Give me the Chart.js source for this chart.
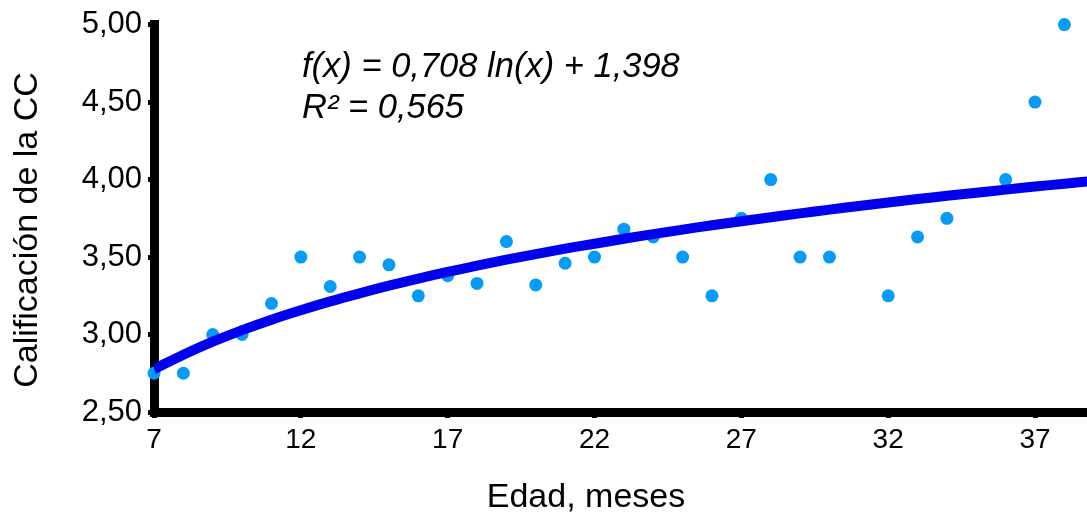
<!DOCTYPE html>
<html>
<head>
<meta charset="utf-8">
<script src="https://cdn.jsdelivr.net/npm/chart.js@4"></script>
<style>
  html, body { margin: 0; padding: 0; background: #fff; }
  #wrap { width: 1087px; height: 514px; }
</style>
</head>
<body>
<div id="wrap"><canvas id="ccChart" width="1087" height="514"></canvas></div>
<script>
// ===== datos =====
const ageMonths = [7, 8, 9, 10, 11, 12, 13, 14, 15, 16, 17, 18, 19, 20, 21, 22, 23, 24, 25, 26, 27, 28, 29, 30, 32, 33, 34, 36, 37, 38];
const ccScores  = [2.75, 2.75, 3.00, 3.00, 3.20, 3.50, 3.31, 3.50, 3.45, 3.25, 3.38, 3.33, 3.60, 3.32, 3.46, 3.50, 3.68, 3.63, 3.50, 3.25, 3.75, 4.00, 3.50, 3.50, 3.25, 3.63, 3.75, 4.00, 4.50, 5.00];

// curva de tendencia logarítmica
const trendX = [7, 8, 9, 10, 11, 12, 13, 14, 15, 16, 17, 18, 19, 20, 21, 22, 23, 24, 25, 26, 27, 28, 29, 30, 31, 32, 33, 34, 35, 36, 37, 38, 39];
const trendY = [2.776, 2.870, 2.954, 3.028, 3.096, 3.157, 3.214, 3.266, 3.315, 3.361, 3.404, 3.444, 3.483, 3.519, 3.554, 3.586, 3.618, 3.648, 3.677, 3.705, 3.731, 3.757, 3.782, 3.806, 3.829, 3.852, 3.874, 3.895, 3.915, 3.935, 3.955, 3.973, 3.992];

const xTicks = [7, 12, 17, 22, 27, 32, 37];
const yTicks = [2.5, 3.0, 3.5, 4.0, 4.5, 5.0];

const equationLines = ["f(x) = 0,708 ln(x) + 1,398", "R² = 0,565"];
const xTitle = "Edad, meses";
const yTitle = "Calificación de la CC";

const font = "'Liberation Sans', Arial, sans-serif";

// ===== textos extra (ecuación y títulos de ejes) =====
const textPlugin = {
  id: "textPlugin",
  afterDraw(chart) {
    const ctx = chart.ctx;
    ctx.save();
    ctx.fillStyle = "#000";
    ctx.textBaseline = "alphabetic";
    ctx.textAlign = "left";
    ctx.font = "italic 34.5px " + font;
    ctx.fillText(equationLines[0], 302, 77);
    ctx.fillText(equationLines[1], 302, 118);

    ctx.textAlign = "center";
    ctx.font = "34px " + font;
    ctx.fillText(xTitle, 586, 507);

    ctx.translate(37, 230);
    ctx.rotate(-Math.PI / 2);
    ctx.fillText(yTitle, 0, 0);
    ctx.restore();
  }
};

new Chart(document.getElementById("ccChart"), {
  type: "scatter",
  data: {
    datasets: [
      {
        label: "tendencia",
        data: trendX.map((x, i) => ({ x, y: trendY[i] })),
        showLine: true,
        borderColor: "#0000ee",
        borderWidth: 10,
        pointRadius: 0,
        tension: 0.4,
        order: 0
      },
      {
        label: "CC",
        data: ageMonths.map((x, i) => ({ x, y: ccScores[i] })),
        backgroundColor: "#069bf6",
        borderWidth: 0,
        pointRadius: 6.5,
        clip: false,
        order: 1
      }
    ]
  },
  options: {
    responsive: false,
    animation: false,
    layout: { autoPadding: false, padding: { top: 24, right: 0, left: 0, bottom: 0 } },
    plugins: {
      legend: { display: false },
      tooltip: { enabled: false }
    },
    scales: {
      x: {
        type: "linear",
        min: 7,
        max: 38.77,
        afterBuildTicks: (s) => { s.ticks = xTicks.map(v => ({ value: v })); },
        afterFit: (s) => { s.height = 102; s.paddingRight = 0; s.paddingLeft = 0; },
        grid: { drawOnChartArea: false, drawTicks: true, tickLength: 6, tickWidth: 5, color: "#000" },
        border: { display: true, color: "#000", width: 9 },
        ticks: { color: "#000", font: { size: 28, family: font }, padding: 5, maxRotation: 0, autoSkip: false }
      },
      y: {
        min: 2.5,
        max: 5,
        afterBuildTicks: (s) => { s.ticks = yTicks.map(v => ({ value: v })); },
        afterFit: (s) => { s.width = 154; },
        grid: { drawOnChartArea: false, drawTicks: true, tickLength: 6, tickWidth: 5, color: "#000" },
        border: { display: true, color: "#000", width: 9 },
        ticks: {
          color: "#000",
          font: { size: 31, family: font },
          padding: 6,
          callback: (v) => v.toFixed(2).replace(".", ",")
        }
      }
    }
  },
  plugins: [textPlugin]
});
</script>
</body>
</html>
